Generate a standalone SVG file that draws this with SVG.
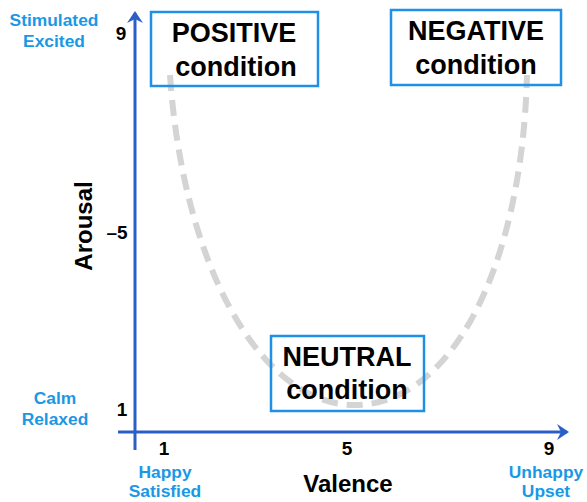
<svg xmlns="http://www.w3.org/2000/svg" width="587" height="502" viewBox="0 0 587 502">
<defs>
<style>
.box{fill:none;stroke:#1f90e6;stroke-width:2.5}
.t{font-family:"Liberation Sans",Arial,sans-serif;font-weight:bold;fill:#000;text-anchor:middle}
.big{font-size:27px}
.lbl{font-family:"Liberation Sans",Arial,sans-serif;font-weight:bold;fill:#1a98e6;text-anchor:middle;font-size:17.4px}
.num{font-size:19px}
.axis{stroke:#2a5fc6;stroke-width:3;fill:none}
.curve{fill:none;stroke:#d4d4d4;stroke-width:6;stroke-dasharray:16 9}
</style>
<marker id="ah" viewBox="0 0 12 16" refX="10" refY="8" markerWidth="12" markerHeight="16" markerUnits="userSpaceOnUse" orient="auto">
<path d="M0,0 L12,8 L0,16 L4,8 Z" fill="#2a5fc6"/>
</marker>
</defs>
<rect width="587" height="502" fill="#fff"/>
<g id="connectors">
<path class="curve" d="M170,75 C183,265 260,405 355,405 C450,405 522,270 527,75"/>
<line class="axis" x1="135" y1="450" x2="135" y2="13" marker-end="url(#ah)"/>
<line class="axis" x1="118" y1="432" x2="567" y2="432" marker-end="url(#ah)"/>
</g>
<g id="positive">
<rect class="box" x="151" y="12" width="167" height="74"/>
<text class="t big" x="234" y="42">POSITIVE</text>
<text class="t big" x="236" y="76">condition</text>
</g>
<g id="negative">
<rect class="box" x="391" y="10" width="170" height="75"/>
<text class="t big" x="476" y="40">NEGATIVE</text>
<text class="t big" x="476" y="74">condition</text>
</g>
<g id="neutral">
<rect class="box" x="271" y="336" width="153" height="75"/>
<text class="t big" x="347" y="366">NEUTRAL</text>
<text class="t big" x="347" y="399">condition</text>
</g>
<g id="labels">
<text class="lbl" x="54" y="26">Stimulated</text>
<text class="lbl" x="54" y="47">Excited</text>
<text class="lbl" x="55" y="404">Calm</text>
<text class="lbl" x="55" y="425">Relaxed</text>
<text class="lbl" x="165" y="478">Happy</text>
<text class="lbl" x="165" y="497">Satisfied</text>
<text class="lbl" x="546" y="478">Unhappy</text>
<text class="lbl" x="546" y="497">Upset</text>
<text class="t num" x="121" y="40">9</text>
<text class="t num" x="117" y="239">–5</text>
<text class="t num" x="122" y="416">1</text>
<text class="t num" x="164" y="455">1</text>
<text class="t num" x="347" y="455">5</text>
<text class="t num" x="549" y="455">9</text>
<text class="t" style="font-size:24px" x="348" y="492">Valence</text>
<text class="t" style="font-size:24px" transform="translate(92,226) rotate(-90)">Arousal</text>
</g>
</svg>
